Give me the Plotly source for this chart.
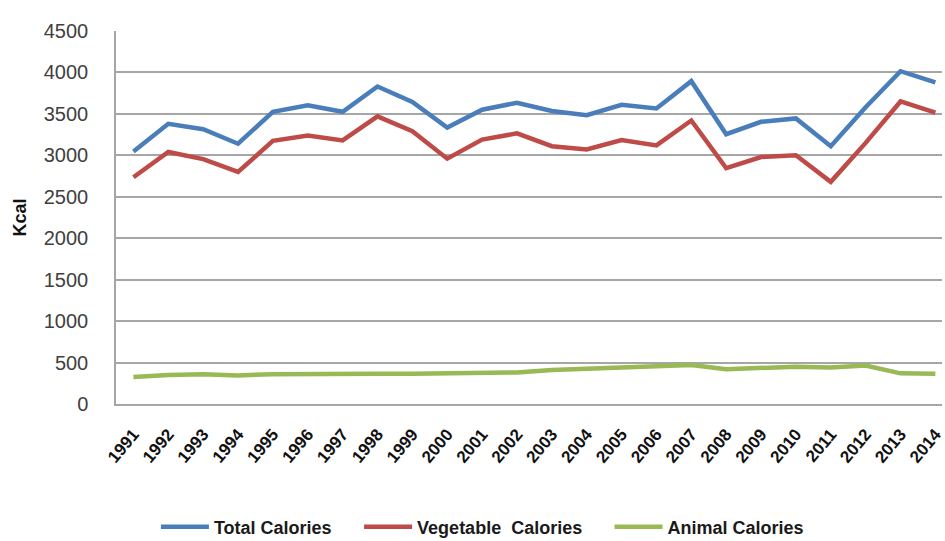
import plotly.graph_objects as go

years = [str(y) for y in range(1991, 2015)]

total_calories = [3045, 3380, 3315, 3140, 3525, 3605, 3525, 3830, 3645, 3335,
                  3550, 3635, 3535, 3485, 3610, 3565, 3895, 3255, 3405, 3445,
                  3110, 3580, 4015, 3880]
vegetable_calories = [2735, 3040, 2955, 2800, 3175, 3240, 3180, 3470, 3290, 2960,
                      3190, 3265, 3110, 3070, 3185, 3120, 3420, 2845, 2980, 3000,
                      2680, 3150, 3650, 3515]
animal_calories = [325, 350, 360, 345, 360, 365, 360, 365, 365, 370,
                   365, 380, 410, 425, 435, 450, 470, 420, 430, 450,
                   440, 465, 370, 365]

y_ticks = list(range(0, 4501, 500))

# name, values, colour, legend id, legend left edge (container fraction)
series = [
    ("Total Calories", total_calories, "#4A7EBB", "legend", 0.165),
    ("Vegetable  Calories", vegetable_calories, "#BE4B48", "legend2", 0.380),
    ("Animal Calories", animal_calories, "#98B954", "legend3", 0.645),
]

fig = go.Figure()
for name, vals, color, leg, _ in series:
    fig.add_trace(go.Scatter(
        x=years, y=vals, name=name, mode="lines", legend=leg,
        line=dict(color=color, width=4.5),
    ))

legend_font = dict(family="Liberation Sans, Arial, sans-serif", size=18,
                   color="#1a1a1a", weight="bold")
legends = {}
for _, _, _, leg, xpos in series:
    legends[leg] = dict(
        orientation="h", xref="container", yref="container",
        x=xpos, xanchor="left", y=0.026, yanchor="middle",
        font=legend_font, itemwidth=48, bgcolor="rgba(0,0,0,0)",
    )

fig.update_layout(
    width=945, height=541,
    margin=dict(l=116, r=0, t=31, b=137),
    paper_bgcolor="white", plot_bgcolor="white",
    font=dict(family="Liberation Sans, Arial, sans-serif", color="#333333"),
    showlegend=True,
    **legends,
    xaxis=dict(
        type="category", range=[-0.5, 23.19],
        tickangle=-50, showgrid=False,
        tickfont=dict(size=17, color="#111111",
                      family="Liberation Sans, Arial, sans-serif", weight="bold"),
        showline=True, linecolor="#A6A6A6", linewidth=1.5,
        ticks="", ticklabelstandoff=12,
    ),
    yaxis=dict(
        range=[0, 4500], tickvals=y_ticks,
        showgrid=True, gridcolor="#A6A6A6", gridwidth=1.5,
        showline=True, linecolor="#A6A6A6", linewidth=1.5,
        zeroline=False, ticks="", ticklabelstandoff=22,
        tickfont=dict(size=20, color="#404040"),
        title=dict(text="<b>Kcal</b>", font=dict(size=18, color="#111111"),
                   standoff=12),
    ),
)

fig.write_html("out.html")
